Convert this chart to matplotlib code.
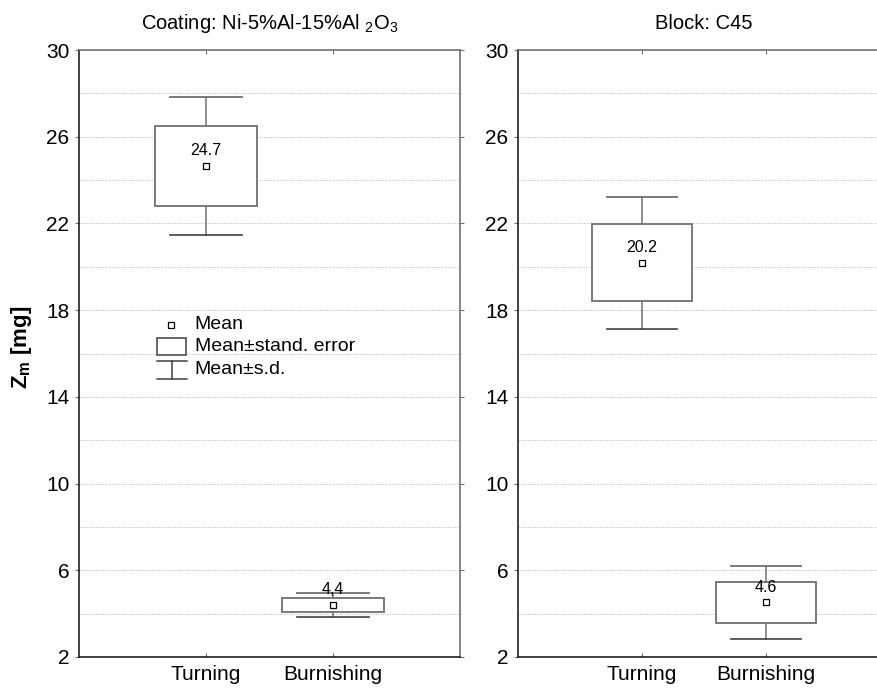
import numpy as np
import matplotlib
matplotlib.use('Agg')
import matplotlib.pyplot as plt
from matplotlib.patches import Rectangle
from matplotlib.lines import Line2D

plt.rcParams['font.family'] = ['Liberation Sans', 'DejaVu Sans']
plt.rcParams['mathtext.fontset'] = 'custom'
plt.rcParams['mathtext.rm'] = 'Liberation Sans'
plt.rcParams['mathtext.it'] = 'Liberation Sans'
plt.rcParams['mathtext.bf'] = 'Liberation Sans:bold'

# data
categories = ['Turning', 'Burnishing']

coating_mean = [24.65, 4.40]
coating_se = [1.84, 0.31]
coating_sd = [3.20, 0.54]
coating_labels = ['24.7', '4,4']

block_mean = [20.19, 4.52]
block_se = [1.78, 0.96]
block_sd = [3.05, 1.69]
block_labels = ['20.2', '4.6']

yticks = [2, 6, 10, 14, 18, 22, 26, 30]
ygrid = [4, 6, 8, 10, 12, 14, 16, 18, 20, 22, 24, 26, 28]

box_col = '#707070'
spine_dark = '#202020'
spine_grey = '#707070'

#%%
def draw_boxes(ax, mean, se, sd, labels):
    xs = np.arange(1, len(categories)+1)
    for x, m, s, d, lab in zip(xs, mean, se, sd, labels):
        # whiskers (mean +- s.d.)
        ax.plot([x, x], [m+s, m+d], color=box_col, lw=1.1, zorder=3)
        ax.plot([x, x], [m-s, m-d], color=box_col, lw=1.1, zorder=3)
        ax.plot([x-0.28, x+0.28], [m+d, m+d], color=box_col, lw=1.3, zorder=3)
        ax.plot([x-0.28, x+0.28], [m-d, m-d], color='#404040', lw=1.2, zorder=3)
        # box (mean +- SE)
        ax.add_patch(Rectangle((x-0.4, m-s), 0.8, 2*s, facecolor='white',
                               edgecolor=box_col, lw=1.3, zorder=3))
        ax.plot(x, m, 's', ms=5, mfc='white', mec='black', mew=0.9, zorder=4)
        ax.annotate(lab, (x, m), xytext=(0, 11), textcoords='offset points',
                    ha='center', va='center', fontsize=11.5, zorder=5)

def style_axes(ax):
    ax.set_xlim(0, 3)
    ax.set_ylim(2, 30)
    ax.set_xticks([1, 2])
    ax.set_xticklabels(categories, fontsize=15)
    ax.set_yticks(yticks)
    ax.set_yticklabels([str(t) for t in yticks], fontsize=15)
    for g in ygrid:
        ax.axhline(g, color='#c4c4c4', lw=0.7, ls=(0, (1.2, 1.2)), zorder=1)
    ax.tick_params(axis='x', direction='in', length=3, top=True, colors=spine_grey,
                   labelcolor='black', pad=6)
    ax.tick_params(axis='y', direction='out', length=3, right=True, colors=spine_grey,
                   labelcolor='black', pad=4)
    ax.spines['left'].set_color(spine_dark)
    ax.spines['bottom'].set_color(spine_dark)
    ax.spines['top'].set_color(spine_grey)
    ax.spines['right'].set_color(spine_grey)
    for sp in ax.spines.values():
        sp.set_linewidth(1.2)

fig = plt.figure(figsize=(8.78, 6.9), dpi=100)
ax1 = fig.add_axes([79/878, 33/690, 381/878, 607/690])
ax2 = fig.add_axes([518/878, 33/690, 372/878, 607/690])

draw_boxes(ax1, coating_mean, coating_se, coating_sd, coating_labels)
draw_boxes(ax2, block_mean, block_se, block_sd, block_labels)
style_axes(ax1)
style_axes(ax2)

ax1.set_title('Coating: Ni-5%Al-15%Al $_2$O$_3$', fontsize=14.5, pad=15)
ax2.set_title('Block: C45', fontsize=14.5, pad=15)
ax1.set_ylabel('Z$_\\mathbf{m}$ [mg]', fontsize=16, fontweight='bold')
ax1.yaxis.set_label_coords(-0.118, 0.51)

# legend drawn in axes fraction
tr = ax1.transAxes
ax1.plot(0.241, 0.547, 's', ms=5, mfc='white', mec='black', mew=0.9, transform=tr, clip_on=False)
ax1.text(0.304, 0.547, 'Mean', transform=tr, va='center', fontsize=14)
ax1.add_patch(Rectangle((0.205, 0.497), 0.076, 0.028, transform=tr, facecolor='white',
                        edgecolor='#404040', lw=1.1))
ax1.text(0.304, 0.511, 'Mean\u00b1stand. error', transform=tr, va='center', fontsize=14)
ax1.add_line(Line2D([0.205, 0.283], [0.488, 0.488], transform=tr, color='#404040', lw=1.1))
ax1.add_line(Line2D([0.205, 0.283], [0.458, 0.458], transform=tr, color='#404040', lw=1.1))
ax1.add_line(Line2D([0.244, 0.244], [0.458, 0.488], transform=tr, color='#404040', lw=1.1))
ax1.text(0.304, 0.473, 'Mean\u00b1s.d.', transform=tr, va='center', fontsize=14)

fig.savefig('out.png', dpi=100, facecolor='w')
